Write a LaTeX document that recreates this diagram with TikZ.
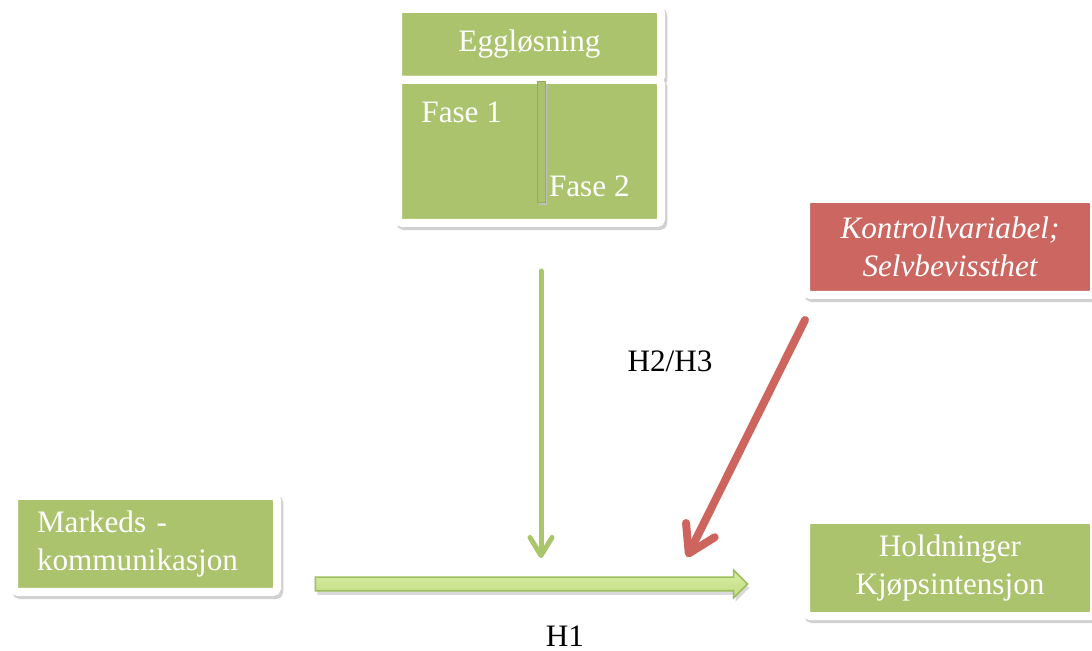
\documentclass[tikz,border=0pt]{standalone}
\usepackage{fontspec}
\setmainfont{Liberation Serif}
\usetikzlibrary{arrows.meta,positioning,shapes.arrows}
\definecolor{boxgreen}{HTML}{AAC36C}
\definecolor{boxred}{HTML}{CC6660}
\definecolor{arrgreen}{HTML}{A9C66A}
\definecolor{arrred}{HTML}{CD645E}
\definecolor{hlight}{HTML}{D8EEA2}
\definecolor{hdark}{HTML}{C0DC84}
\definecolor{hedge}{HTML}{9DBE5C}
\tikzset{
  boxshadow/.style={preaction={draw=black!18, fill=black!18, transform canvas={xshift=1.2pt, yshift=-1.6pt}}},
  framebox/.style={draw=white, line width=4pt, rounded corners=2pt, outer sep=0pt, inner sep=0pt, text=white, font=\fontsize{15.6}{18.7}\selectfont, align=center, boxshadow},
  greenbox/.style={framebox, fill=boxgreen},
  redbox/.style={framebox, fill=boxred, font=\fontsize{15.6}{18.7}\selectfont\itshape},
  phaselbl/.style={inner sep=0pt, text=white, font=\fontsize{15.6}{18.7}\selectfont},
  hyplbl/.style={inner sep=0pt, text=black, font=\fontsize{15.6}{18.7}\selectfont},
  modarr/.style={-{Straight Barb[length=9pt, width=11pt, round]}, line width=2.5pt, draw=arrgreen, line cap=round},
  ctrlarr/.style={-{Straight Barb[length=13pt, width=16pt, round]}, line width=4pt, draw=arrred, line cap=round},
  mainarr/.style={single arrow, single arrow head extend=3.5pt, minimum height=216pt, minimum width=13pt,
    inner xsep=0pt, inner ysep=3pt, draw=hedge, line width=0.8pt, top color=hlight, bottom color=hdark,
    preaction={fill=black!15, transform canvas={xshift=1pt, yshift=-2pt}}}
}
\begin{document}
\begin{tikzpicture}[x=0.5pt, y=-0.5pt]
  \useasboundingbox (0,0) rectangle (1092,651);

  % ovulation block
  \node[greenbox, minimum width=131.5pt, minimum height=35.5pt] (egg) at (529.5,44.5) {Eggløsning};
  \node[greenbox, minimum width=131.5pt, minimum height=71.5pt, below=0pt of egg] (ph) {};
  \node[phaselbl, below right=11pt and 11.5pt of ph.north west] (f1) {Fase 1};
  \node[phaselbl, above left=13pt and 15.5pt of ph.south east] (f2) {Fase 2};
  \node[fill=boxgreen, draw=boxgreen!88!black, line width=0.4pt, inner sep=0pt, minimum width=4pt, minimum height=60.5pt,
        preaction={fill=black!25, transform canvas={xshift=1pt, yshift=-1.5pt}}] (bar) at (541,141.5) {};

  % the other boxes
  \node[redbox, minimum width=144pt, minimum height=48pt] (ctrl) at (950,247) {Kontrollvariabel;\\Selvbevissthet};
  \node[greenbox, minimum width=131.5pt, minimum height=48pt, text width=108.5pt, align=left, inner xsep=11.5pt] (mk) at (145.5,544) {Markeds -\\kommunikasjon};
  \node[greenbox, minimum width=144pt, minimum height=48pt] (hold) at (950,568) {Holdninger\\Kjøpsintensjon};

  % H1
  \node[mainarr] (h1) at (528,584) {};
  \node[hyplbl] (h1lbl) at (565,636) {H1};
  \node[hyplbl] (h23lbl) at (670,361) {H2/H3};

  \coordinate (modtop) at ([yshift=-24pt]bar.center |- ph.south);
  \coordinate (modend) at ([yshift=13pt]bar.center |- h1.center);
  \coordinate (ctrltop) at ([xshift=-0.5pt, yshift=-12.5pt]ctrl.south west);
  \coordinate (ctrlend) at ([xshift=79.5pt, yshift=13.5pt]h1.center);

  \draw[modarr] (modtop) -- (modend);
  \draw[ctrlarr] (ctrltop) -- (ctrlend);
\end{tikzpicture}
\end{document}
